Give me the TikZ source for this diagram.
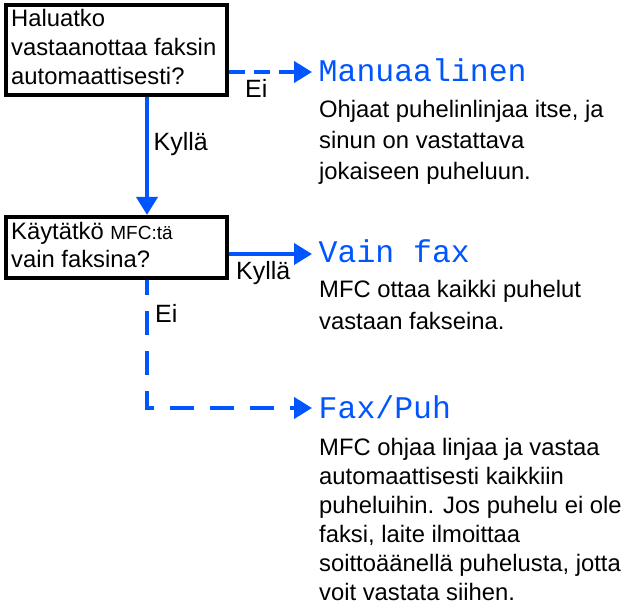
\documentclass[tikz,border=0pt]{standalone}
\usepackage{fontspec}
\setmainfont{Liberation Sans}
\newfontfamily\dotfont{Liberation Mono}
\usetikzlibrary{arrows.meta}
\definecolor{fblue}{RGB}{0,85,255}
\begin{document}
\begin{tikzpicture}[x=1pt,y=-1pt,
  box/.style={draw=black, line width=4.2pt, inner sep=0pt},
  txt/.style={anchor=base west, inner sep=0pt, align=left},
  lbl/.style={anchor=base west, inner sep=0pt, font=\fontsize{25}{29}\selectfont},
  head/.style={anchor=base west, inner sep=0pt, text=fblue, font=\dotfont\fontsize{31.5}{31.5}\selectfont},
  flow/.style={draw=fblue, line width=4pt, -{Triangle[length=18pt,width=21pt]}},
]
\useasboundingbox (0,0) rectangle (625,607);
% boxes
\node[box, minimum width=221pt, minimum height=90pt] (q1) at (116.5,50) {};
\node[box, minimum width=221pt, minimum height=61pt] (q2) at (116.5,247.5) {};
% multi-line nodes: base anchor = baseline of the last line
\node[txt, font=\fontsize{23.8}{29}\selectfont] (q1t) at (11,85) {Haluatko\\vastaanottaa faksin\\automaattisesti?};
\node[txt, font=\fontsize{23.8}{28}\selectfont] (q2t) at (11,268) {Käytätkö {\fontsize{19}{28}\selectfont MFC:tä}\\vain faksina?};
% headings
\node[head] (h1) at (318.5,82) {Manuaalinen};
\node[head] (h2) at (318.5,263) {Vain fax};
\node[head] (h3) at (318.5,418) {Fax/Puh};
% paragraphs
\node[txt, font=\fontsize{23.8}{31}\selectfont] (p1) at (319,180) {Ohjaat puhelinlinjaa itse, ja\\sinun on vastattava\\jokaiseen puheluun.};
\node[txt, font=\fontsize{23.8}{32}\selectfont] (p2) at (319,330) {MFC ottaa kaikki puhelut\\vastaan fakseina.};
\node[txt, font=\fontsize{23.8}{29}\selectfont] (p3) at (319,600) {MFC ohjaa linjaa ja vastaa\\automaattisesti kaikkiin\\puheluihin. Jos puhelu ei ole\\faksi, laite ilmoittaa\\soittoäänellä puhelusta, jotta\\voit vastata siihen.};
% labels
\node[lbl] (l1) at (245,98) {Ei};
\node[lbl] (l2) at (153.5,151) {Kyllä};
\node[lbl] (l3) at (236,280) {Kyllä};
\node[lbl] (l4) at (155,323) {Ei};
% connector coordinates
\coordinate (v) at (147,0);
\coordinate (t1) at (312,72);
\coordinate (t2) at (312,254);
\coordinate (t3) at (312,408);
% connectors
\draw[flow, dash pattern=on 16pt off 9pt] (q1.east |- t1) -- (t1);
\draw[flow] (q1.south -| v) -- (q2.north -| v);
\draw[flow] (q2.east |- t2) -- (t2);
\draw[flow, dash pattern=on 24pt off 16pt, dash phase=9pt] (q2.south -| v) |- (t3);
\end{tikzpicture}
\end{document}
